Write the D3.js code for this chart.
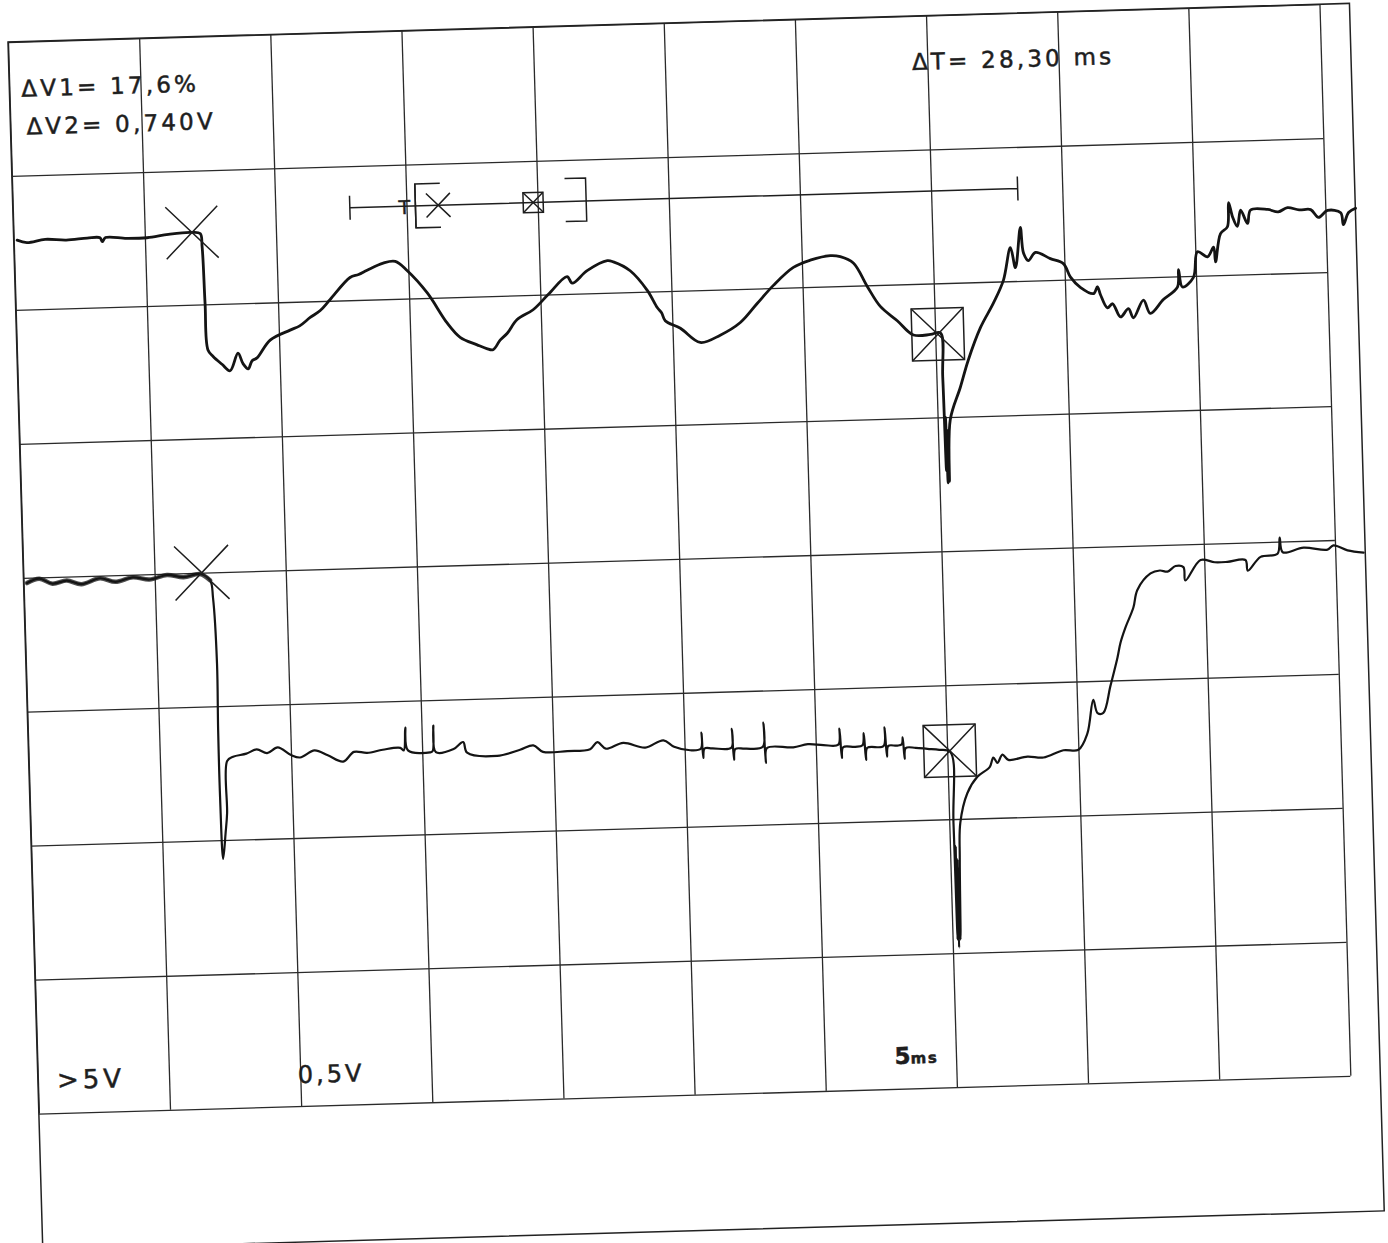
<!DOCTYPE html>
<html>
<head>
<meta charset="utf-8">
<script src="https://cdn.jsdelivr.net/npm/d3@7"></script>
<style>
  body { margin: 0; background: #fff; }
  svg { display: block; }
  .grid line { stroke: #2a2a2a; stroke-width: 1.3; }
  .grid .domain { display: none; }
  .frame { fill: none; stroke: #222; stroke-width: 1.5; }
  .trace { fill: none; stroke: #141414; stroke-linejoin: round; stroke-linecap: round; }
  .mark { fill: none; stroke: #1e1e1e; stroke-width: 1.5; }
  .readout { font-family: "DejaVu Sans", sans-serif; fill: #1e1e1e; stroke: #1e1e1e; stroke-width: 0.5; }
</style>
</head>
<body>
<svg id="scope"></svg>
<script>
// time in ms (5 ms / div), amplitude in divisions (0 = screen centre)
const timeTicks = d3.range(0, 55, 5)
const divTicks = d3.range(-4, 5, 1)

// channel 1 (upper trace)
const trace1 = [[0.13,2.52],[0.50,2.50],[1.2,2.52],[2.0,2.51],[2.8,2.52],[3.29,2.52],[3.37,2.49],[3.5,2.52],
  [4.3,2.51],[5.08,2.51],[5.9,2.53],[6.73,2.54],[7.11,2.53],[7.17,2.43],[7.22,2.01],[7.28,1.66],[7.47,1.61],
  [7.8,1.55],[8.10,1.50],[8.42,1.63],[8.6,1.55],[8.79,1.51],[8.95,1.57],[9.14,1.59],[9.66,1.72],[10.43,1.79],
  [10.8,1.82],[11.21,1.88],[11.6,1.93],[11.99,2.01],[12.77,2.17],[13.1,2.19],[13.43,2.22],[14.05,2.27],
  [14.51,2.28],[14.95,2.21],[15.69,2.04],[16.42,1.81],[16.90,1.70],[17.54,1.64],[17.9,1.61],[18.14,1.60],
  [18.42,1.67],[18.70,1.72],[19.09,1.82],[19.71,1.89],[20.30,2.00],[21.04,2.13],[21.23,2.08],[21.81,2.17],
  [22.59,2.24],[22.82,2.23],[23.45,2.16],[24.08,2.01],[24.44,1.88],[24.6,1.84],[24.73,1.78],[25.30,1.72],
  [26.04,1.61],[26.81,1.66],[27.59,1.75],[28.26,1.89],[28.89,2.02],[29.67,2.15],[30.32,2.20],[31.09,2.23],
  [31.47,2.22],[31.96,2.17],[32.47,1.99],[32.94,1.84],[33.57,1.73],[34.17,1.62],[34.82,1.62],[35.20,1.63],
  [35.24,1.30],[35.28,0.60],[35.30,1.00],[35.33,0.51],[35.36,0.90],[35.38,0.52],[35.48,0.98],[35.90,1.22],
  [36.23,1.42],[36.73,1.66],[37.25,1.84],[37.66,2.01],[37.96,2.25],[38.13,2.10],[38.36,2.40],[38.45,2.21],
  [38.63,2.15],[38.91,2.21],[39.47,2.16],[39.96,2.12],[40.21,2.02],[40.58,1.94],[41.08,1.89],[41.23,1.94],
  [41.34,1.88],[41.59,1.78],[41.79,1.81],[42.08,1.71],[42.39,1.77],[42.57,1.70],[42.97,1.83],[43.22,1.73],
  [43.73,1.83],[44.28,1.92],[44.34,2.05],[44.47,1.92],[44.90,1.99],[45.08,2.18],[45.46,2.14],[45.70,2.21],
  [45.76,2.10],[45.98,2.31],[46.25,2.36],[46.32,2.54],[46.46,2.43],[46.63,2.36],[46.77,2.48],[47.02,2.38],
  [47.15,2.48],[47.80,2.48],[48.2,2.46],[48.56,2.49],[49.0,2.47],[49.44,2.47],[49.73,2.41],[50.08,2.46],
  [50.58,2.44],[50.67,2.35],[50.88,2.44],[51.15,2.47]]

// channel 2 (lower trace)
const trace2 = [[0.13,-0.04],[0.6,-0.01],[1.1,-0.05],[1.65,-0.03],[2.2,-0.06],[2.92,-0.02],[3.5,-0.05],
  [4.17,-0.02],[4.8,-0.04],[5.47,-0.01],[6.1,-0.03],[6.73,-0.01],[7.11,-0.06],[7.20,-0.19],[7.28,-0.68],
  [7.25,-1.18],[7.25,-1.68],[7.30,-2.14],[7.42,-1.95],[7.50,-1.80],[7.56,-1.41],[7.79,-1.38],[8.3,-1.36],
  [8.7,-1.33],[9.09,-1.36],[9.5,-1.32],[10.0,-1.38],[10.34,-1.40],[10.9,-1.35],[11.4,-1.39],[11.98,-1.44],
  [12.4,-1.37],[12.90,-1.38],[13.5,-1.36],[14.17,-1.35],[14.30,-1.37],[14.38,-1.20],[14.46,-1.37],[15.30,-1.39],
  [15.40,-1.38],[15.45,-1.19],[15.52,-1.39],[16.2,-1.37],[16.57,-1.32],[16.71,-1.40],[17.85,-1.43],[18.73,-1.39],
  [19.24,-1.36],[19.6,-1.41],[20.53,-1.41],[21.4,-1.40],[21.68,-1.35],[22.0,-1.40],[22.67,-1.36],
  [23.5,-1.40],[24.20,-1.35],[24.6,-1.40],[25.21,-1.43],[25.62,-1.42],[25.66,-1.30],[25.70,-1.49],[25.76,-1.42],
  [26.06,-1.42],[26.78,-1.42],[26.82,-1.28],[26.87,-1.51],[26.93,-1.43],[27.31,-1.43],[27.98,-1.42],
  [28.03,-1.24],[28.08,-1.54],[28.14,-1.43],[29.14,-1.43],[29.7,-1.41],[30.29,-1.42],[30.86,-1.42],
  [30.92,-1.30],[30.98,-1.52],[31.04,-1.44],[31.50,-1.44],[31.78,-1.43],[31.84,-1.34],[31.90,-1.54],
  [31.96,-1.45],[32.58,-1.44],[32.64,-1.30],[32.70,-1.52],[32.76,-1.44],[33.10,-1.44],[33.28,-1.43],
  [33.32,-1.38],[33.37,-1.54],[33.42,-1.46],[33.8,-1.46],[34.25,-1.47],[34.7,-1.48],[35.12,-1.50],
  [35.16,-2.03],[35.19,-2.90],[35.22,-2.20],[35.24,-2.96],[35.27,-2.30],[35.30,-2.90],[35.36,-2.30],
  [35.42,-2.03],[35.72,-1.81],[36.12,-1.69],[36.6,-1.62],[36.75,-1.55],[36.90,-1.59],[37.1,-1.53],
  [37.32,-1.57],[38.05,-1.55],[38.66,-1.56],[39.43,-1.51],[40.00,-1.51],[40.36,-1.39],[40.62,-1.14],
  [40.77,-1.24],[40.99,-1.24],[41.29,-1.04],[41.59,-0.83],[41.72,-0.72],[41.92,-0.61],[42.25,-0.46],
  [42.42,-0.33],[42.94,-0.21],[43.3,-0.19],[43.59,-0.20],[43.9,-0.16],[44.20,-0.17],[44.26,-0.27],
  [44.86,-0.12],[45.4,-0.14],[45.88,-0.14],[46.57,-0.13],[46.65,-0.21],[47.15,-0.11],[47.80,-0.09],
  [47.90,0.03],[48.00,-0.08],[48.80,-0.05],[49.71,-0.07],[49.94,-0.04],[50.47,-0.08],[51.08,-0.10]]

// cursors: X at start, boxed X at end (dT = 28,30 ms)
const cursorTimes = [6.80, 35.10]
const cursorLevels1 = [2.54, 1.62]
const cursorLevels2 = [0.00, -1.49]

// memory window bar along the top
const barEnds = [12.84, 38.3]
const barLevel = 2.69
const bracketTimes = [15.34, 21.85]
const windowMarks = [16.21, 19.83]

const readouts = ["ΔV1= 17,6%", "ΔV2= 0,740V", "ΔT= 28,30 ms"]
const scaleLabels = [">5V", "0,5V", "5", "ms"]

var W = 1312, H = 1072
var frameW = 1342, frameH = 1208

var svg = d3.select("#scope")
    .attr("width", 1388)
    .attr("height", 1243)

// scanned sheet is a little tilted
var g = svg.append("g")
    .attr("transform", "translate(8,42) rotate(-1.65)")

var x = d3.scaleLinear().domain([0, 50]).range([0, W])
var y = d3.scaleLinear().domain([-4, 4]).range([H, 0])

g.append("g")
    .attr("class", "grid")
    .attr("transform", "translate(0," + H + ")")
    .call(d3.axisBottom(x).tickValues(timeTicks).tickSize(-H).tickFormat(""))

g.append("g")
    .attr("class", "grid")
    .call(d3.axisLeft(y).tickValues(divTicks).tickSize(-W).tickFormat(""))

g.append("path")
    .attr("class", "frame")
    .attr("d", `M0,0 H${frameW} V${frameH} H0 Z`)

const line = d3.line()
    .x(function(d) { return x(d[0]) })
    .y(function(d) { return y(d[1]) })
    .curve(d3.curveCatmullRom.alpha(0.5))

g.append("path").datum(trace1).attr("class", "trace").attr("stroke-width", 2.8).attr("d", line)
g.append("path").datum(trace2).attr("class", "trace").attr("stroke-width", 2.2).attr("d", line)
// noisy, brighter baseline before the trigger
g.append("path").datum(trace2.slice(0, 13)).attr("class", "trace")
    .attr("stroke-width", 4.5).attr("stroke-opacity", 0.75).attr("d", line)

function cross(cx, cy, r) {
    g.append("path").attr("class", "mark")
        .attr("d", `M${cx - r},${cy - r} L${cx + r},${cy + r} M${cx + r},${cy - r} L${cx - r},${cy + r}`)
}
function boxCross(cx, cy, r) {
    g.append("rect").attr("class", "mark")
        .attr("x", cx - r).attr("y", cy - r).attr("width", 2 * r).attr("height", 2 * r)
    cross(cx, cy, r)
}

cross(x(cursorTimes[0]), y(cursorLevels1[0]), 26)
cross(x(cursorTimes[0]), y(cursorLevels2[0]), 27)
boxCross(x(cursorTimes[1]), y(cursorLevels1[1]), 26)
boxCross(x(cursorTimes[1]), y(cursorLevels2[1]), 26)

// window bar
var by = y(barLevel)
g.append("path").attr("class", "mark")
    .attr("d", `M${x(barEnds[0])},${by} H${x(barEnds[1])}
                M${x(barEnds[0])},${by - 12} V${by + 12}
                M${x(barEnds[1])},${by - 12} V${by + 12}`)
var b0 = x(bracketTimes[0]), b1 = x(bracketTimes[1])
g.append("path").attr("class", "mark").attr("stroke-width", 3.5)
    .attr("d", `M${b0},${by - 22} V${by + 22}`)
g.append("path").attr("class", "mark")
    .attr("d", `M${b0 + 25},${by - 22} H${b0} V${by + 22} H${b0 + 25}
                M${b1 - 21},${by - 23} H${b1} V${by + 20} H${b1 - 21}`)
cross(x(windowMarks[0]), by, 12)
boxCross(x(windowMarks[1]), by, 10)
g.append("text").attr("class", "readout")
    .attr("x", b0 - 17).attr("y", by + 8)
    .style("font-size", "19px").text("T")

// readouts
var topLabels = [[12, 55], [16, 93], [903, 54]]
readouts.forEach(function(t, i) {
    g.append("text").attr("class", "readout")
        .attr("x", topLabels[i][0]).attr("y", topLabels[i][1])
        .style("font-size", "23px").style("letter-spacing", "3.2px")
        .text(t)
})

var bottomLabels = [[19, 1048, 26, 4], [260, 1049, 24, 3], [857, 1047, 23, 1], [873, 1047, 15, 1.5]]
scaleLabels.forEach(function(t, i) {
    g.append("text").attr("class", "readout")
        .attr("x", bottomLabels[i][0]).attr("y", bottomLabels[i][1])
        .style("font-size", bottomLabels[i][2] + "px").style("font-weight", i > 1 ? "bold" : "normal")
        .style("letter-spacing", bottomLabels[i][3] + "px")
        .text(t)
})
</script>
</body>
</html>
